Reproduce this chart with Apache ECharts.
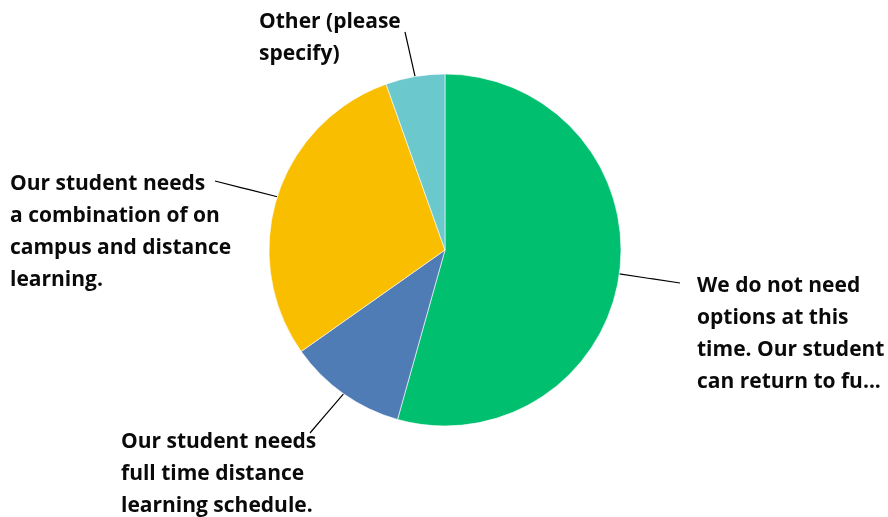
<!DOCTYPE html>
<html><head><meta charset="utf-8">
<script src="https://cdn.jsdelivr.net/npm/echarts@6/dist/echarts.min.js"></script>
<style>html,body{margin:0;padding:0;background:#fff}#c{width:888px;height:517px}</style>
</head><body><div id="c"></div>
<script>
// ---- data ----
const categories = [
  "We do not need options at this time. Our student can return to fu...",
  "Our student needs full time distance learning schedule.",
  "Our student needs a combination of on campus and distance learning.",
  "Other (please specify)"
];
const labelLines = [
  ["We do not need", "options at this", "time. Our student", "can return to fu..."],
  ["Our student needs", "full time distance", "learning schedule."],
  ["Our student needs", "a combination of on", "campus and distance", "learning."],
  ["Other (please", "specify)"]
];
const values = [50, 10, 27, 5];
const colors = ["#00bf6f", "#507cb6", "#f9be00", "#6bc8cd"];

// ---- label layout (positions, not data) ----
const labelBox = [[697, 270], [121, 426], [10, 168], [259, 6]];
const lineEnd = [[680, 283], [310, 433], [215, 181], [405, 32]];

const chart = echarts.init(document.getElementById('c'), null, {renderer: 'canvas'});
chart.setOption({
  animation: false,
  series: [{
    type: 'pie',
    center: [445, 250],
    radius: 176,
    startAngle: 90,
    clockwise: true,
    silent: true,
    data: categories.map((n, i) => ({
      name: n, value: values[i],
      itemStyle: {color: colors[i]}
    })),
    itemStyle: {borderColor: '#fff', borderWidth: 0.6},
    emphasis: {disabled: true},
    label: {
      show: true,
      position: 'outside',
      formatter: p => labelLines[p.dataIndex].join('\n'),
      color: '#0a0a0a',
      fontFamily: 'Open Sans',
      fontWeight: 'bold',
      fontSize: 21,
      lineHeight: 32,
      overflow: 'none',
      edgeDistance: 0
    },
    labelLine: {
      show: true,
      lineStyle: {color: '#000', width: 1.2},
      smooth: 0.2
    },
    labelLayout: function (params) {
      const i = params.dataIndex;
      const s = params.labelLinePoints ? params.labelLinePoints[0] : lineEnd[i];
      const e = lineEnd[i];
      const m = [s[0] + (e[0] - s[0]) * 0.5, s[1] + (e[1] - s[1]) * 0.5];
      return {
        x: labelBox[i][0], y: labelBox[i][1],
        align: 'left', verticalAlign: 'top',
        labelLinePoints: [s, m, e]
      };
    }
  }]
});
</script></body></html>
